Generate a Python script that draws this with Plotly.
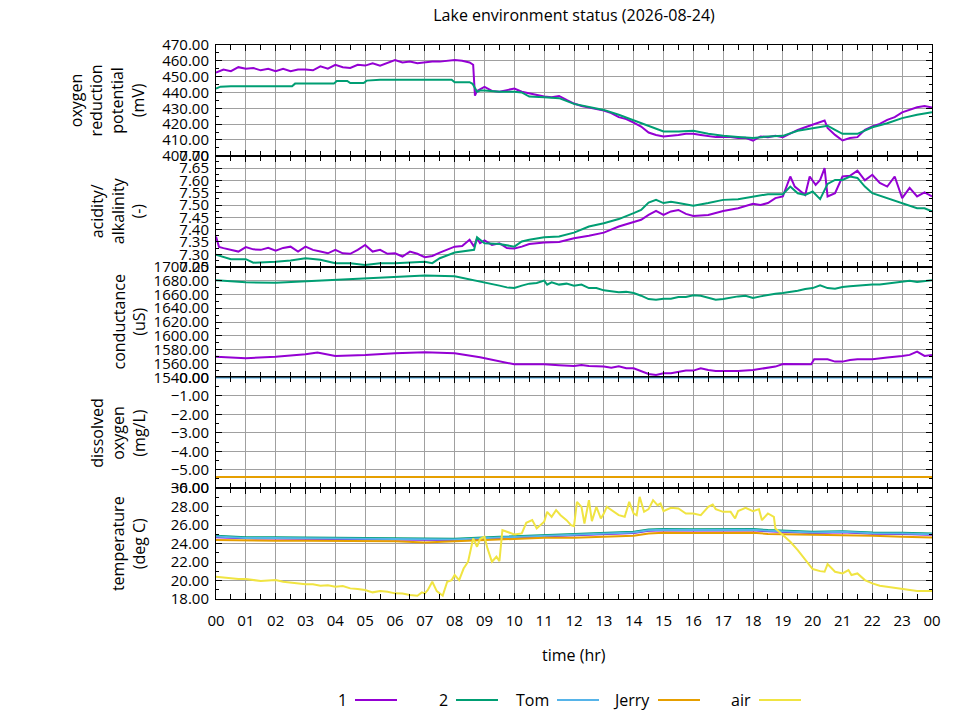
import plotly.graph_objects as go
from plotly.subplots import make_subplots

# ---- data (hours since midnight) ----
orp1_t = [0, 0.25, 0.5, 0.75, 1, 1.25, 1.5, 1.75, 2, 2.25,
          2.5, 2.75, 3, 3.25, 3.5, 3.75, 4, 4.25, 4.5, 4.75,
          5, 5.25, 5.5, 5.75, 6, 6.25, 6.5, 6.75, 7, 7.25,
          7.5, 7.75, 8, 8.25, 8.5, 8.62, 8.68, 8.75, 8.85, 9,
          9.25, 9.5, 9.75, 10, 10.25, 10.5, 10.75, 11, 11.25, 11.5,
          11.75, 12, 12.25, 12.5, 12.75, 13, 13.25, 13.5, 13.75, 14,
          14.25, 14.5, 14.75, 15, 15.25, 15.5, 15.75, 16, 16.25, 16.5,
          16.75, 17, 17.25, 17.5, 17.75, 18, 18.25, 18.5, 18.75, 19,
          19.25, 19.5, 19.75, 20, 20.25, 20.4, 20.5, 20.75, 21, 21.25,
          21.5, 21.75, 22, 22.25, 22.5, 22.75, 23, 23.25, 23.5, 23.75,
          24]
orp1 = [452.5, 454.5, 453.5, 456, 455, 455.5, 454, 455, 453.5, 455,
        453.5, 454.5, 454.5, 454, 456.5, 455, 457.5, 456, 455.5, 457.5,
        457, 458.5, 457, 459, 460.5, 459, 459.5, 458.5, 459, 459.5,
        459.5, 460, 460.5, 460, 459, 457.5, 438, 441, 442, 443.5,
        441, 440.5, 441.5, 442.5, 440.5, 439.5, 438.5, 437.5, 437, 437.8,
        435.3, 433, 431.5, 430.7, 429.5, 428.6, 427, 424.4, 423.2, 421,
        418.5, 414.7, 413.2, 412.2, 412.6, 413.2, 413.9, 413.9, 413.2, 412.6,
        411.8, 411.8, 411.8, 411.2, 411.4, 409.5, 412.2, 411.8, 412.6, 411.8,
        414.3, 416.4, 418, 419.6, 421, 422.3, 417.6, 413.2, 409.7, 411.2,
        411.8, 416.4, 418.5, 420.2, 422.7, 424.4, 427.4, 429, 430.7, 431.5,
        430.5]

orp2_t = [0, 0.15, 0.5, 1, 1.5, 2, 2.55, 2.65, 3, 3.5,
          3.95, 4.05, 4.4, 4.5, 4.95, 5.05, 5.5, 6, 6.5, 7,
          7.5, 7.9, 8.0, 8.5, 8.6, 8.75, 8.85, 9, 9.5, 10,
          10.25, 10.5, 11, 11.5, 12, 12.5, 13, 13.5, 14, 14.5,
          15, 15.5, 16, 16.5, 17, 17.5, 18, 18.5, 19, 19.5,
          20, 20.5, 20.75, 21, 21.5, 22, 22.5, 23, 23.5, 24]
orp2 = [442.5, 443.7, 444, 444, 444, 444, 444, 445.6, 445.6, 445.6,
        445.6, 447.3, 447.3, 446, 446, 447.5, 448, 448, 448, 448,
        448, 448, 446.5, 446.5, 445.5, 440.5, 441.2, 441.2, 440.5, 440.5,
        440, 437.4, 437, 436.4, 432.8, 431.1, 429, 425.9, 422.3, 418.5,
        415.4, 415.4, 415.8, 413.9, 412.6, 411.8, 411.2, 412.2, 412.6, 415.8,
        417.6, 419, 416.4, 413.9, 413.9, 418, 420.6, 423.8, 425.9, 427.6]

ph1_t = [0, 0.1, 0.25, 0.5, 0.75, 1, 1.25, 1.5, 1.75, 2,
         2.25, 2.5, 2.75, 3, 3.25, 3.5, 3.75, 4, 4.25, 4.5,
         4.75, 5, 5.25, 5.5, 5.75, 6, 6.25, 6.5, 6.75, 7,
         7.25, 7.5, 7.75, 8, 8.25, 8.5, 8.65, 8.75, 8.85, 9,
         9.25, 9.5, 9.75, 10, 10.25, 10.5, 10.75, 11, 11.5, 12,
         12.5, 13, 13.5, 14, 14.25, 14.5, 14.75, 15, 15.25, 15.5,
         15.75, 16, 16.5, 17, 17.5, 18, 18.25, 18.5, 18.75, 19,
         19.25, 19.4, 19.75, 19.9, 20.1, 20.25, 20.4, 20.5, 20.75, 21,
         21.25, 21.5, 21.75, 22, 22.25, 22.5, 22.75, 23, 23.25, 23.5,
         23.75, 24]
ph1 = [7.372, 7.330, 7.325, 7.318, 7.311, 7.329, 7.320, 7.318, 7.326, 7.315,
       7.326, 7.331, 7.311, 7.331, 7.318, 7.311, 7.304, 7.318, 7.304, 7.302,
       7.318, 7.338, 7.311, 7.318, 7.302, 7.304, 7.291, 7.311, 7.302, 7.288,
       7.293, 7.307, 7.320, 7.331, 7.334, 7.359, 7.331, 7.365, 7.345, 7.356,
       7.338, 7.345, 7.325, 7.324, 7.331, 7.342, 7.345, 7.348, 7.350, 7.365,
       7.375, 7.388, 7.413, 7.429, 7.440, 7.460, 7.476, 7.460, 7.474, 7.480,
       7.464, 7.456, 7.460, 7.476, 7.487, 7.505, 7.500, 7.508, 7.528, 7.535,
       7.616, 7.575, 7.541, 7.616, 7.582, 7.602, 7.650, 7.535, 7.548, 7.616,
       7.619, 7.640, 7.600, 7.623, 7.590, 7.575, 7.616, 7.528, 7.570, 7.535,
       7.551, 7.535]

ph2_t = [0, 0.5, 1, 1.25, 2, 2.5, 3, 3.5, 4, 4.5,
         5, 5.5, 6, 6.5, 7, 7.25, 7.5, 8, 8.5, 8.65,
         8.75, 9, 9.5, 10, 10.25, 10.5, 11, 11.5, 12, 12.5,
         13, 13.5, 14, 14.25, 14.5, 14.75, 15, 15.25, 15.5, 16,
         16.5, 17, 17.5, 18, 18.5, 19, 19.25, 19.5, 19.75, 20,
         20.25, 20.5, 20.75, 21, 21.25, 21.5, 21.75, 22, 22.5, 23,
         23.5, 23.75, 24]
ph2 = [7.298, 7.280, 7.280, 7.266, 7.270, 7.275, 7.284, 7.278, 7.264, 7.264,
       7.257, 7.264, 7.264, 7.268, 7.270, 7.264, 7.284, 7.307, 7.315, 7.318,
       7.369, 7.345, 7.342, 7.331, 7.352, 7.359, 7.369, 7.372, 7.388, 7.413,
       7.426, 7.443, 7.467, 7.480, 7.510, 7.521, 7.508, 7.513, 7.508, 7.497,
       7.508, 7.521, 7.524, 7.535, 7.544, 7.544, 7.575, 7.548, 7.541, 7.555,
       7.524, 7.586, 7.602, 7.602, 7.616, 7.610, 7.575, 7.548, 7.528, 7.505,
       7.487, 7.487, 7.474]

cond1_t = [0, 1, 2, 3, 3.4, 4, 5, 6, 7, 8,
           8.85, 9.25, 9.5, 9.75, 10, 10.5, 11, 11.5, 12, 12.25,
           12.5, 13, 13.25, 13.5, 13.75, 14, 14.25, 14.5, 14.75, 15,
           15.25, 15.5, 15.75, 16, 16.25, 16.5, 16.75, 17, 17.5, 18,
           18.5, 18.75, 19, 19.5, 19.95, 20.05, 20.5, 20.75, 21, 21.25,
           21.5, 22, 22.25, 22.5, 23, 23.25, 23.5, 23.75, 24]
cond1 = [1570, 1567.6, 1570, 1573.4, 1576, 1571, 1572.5, 1575, 1576.3, 1575,
         1569, 1565.2, 1562.8, 1560.4, 1558.9, 1558.9, 1558.9, 1557.5, 1556.5, 1558,
         1556.5, 1555.6, 1554.1, 1556, 1553.1, 1553.1, 1549.3, 1545, 1543.5, 1545.9,
         1545.9, 1548.3, 1549.8, 1549.8, 1553.1, 1550.7, 1549.3, 1549.3, 1549.3, 1550.7,
         1554.1, 1555.6, 1559.4, 1558.9, 1558.9, 1566.1, 1566.1, 1562.8, 1562.8, 1565.2,
         1566.1, 1566.1, 1567.6, 1568.6, 1571, 1572.5, 1577.3, 1571, 1572.5]

cond2_t = [0, 1, 2, 3, 4, 5, 6, 7, 8, 8.85,
           9.25, 9.5, 9.75, 10, 10.25, 10.5, 10.75, 11, 11.1, 11.25,
           11.5, 11.75, 12, 12.25, 12.5, 12.75, 13, 13.25, 13.5, 13.75,
           14, 14.25, 14.5, 14.75, 15, 15.25, 15.5, 15.75, 16, 16.25,
           16.5, 16.75, 17, 17.25, 17.5, 17.75, 18, 18.25, 18.5, 18.75,
           19, 19.25, 19.5, 19.75, 20, 20.25, 20.5, 20.75, 21, 21.25,
           21.5, 21.75, 22, 22.25, 22.5, 22.75, 23, 23.25, 23.5, 23.75,
           24]
cond2 = [1680.2, 1677.3, 1676.5, 1678.7, 1681, 1683.6, 1685, 1687, 1686, 1678.7,
         1675.4, 1672.5, 1670, 1669, 1672.5, 1675.4, 1676.3, 1679.7, 1674, 1677.3,
         1674, 1675.4, 1672.5, 1674, 1669, 1669, 1665.7, 1664.3, 1662.8, 1663.5,
         1661.8, 1658, 1653.1, 1652.2, 1653.6, 1653.6, 1656, 1656, 1658.5, 1658,
         1654.6, 1652.2, 1653.1, 1655.6, 1657, 1658, 1654.6, 1657, 1659.4, 1660.9,
         1661.8, 1663.3, 1665.2, 1667.6, 1669, 1673, 1669, 1668, 1670.5, 1671.5,
         1672.5, 1672.5, 1674, 1674, 1675.4, 1677.3, 1678.7, 1679.7, 1677.8, 1678.7,
         1680.2]

do_t = [0, 24]
do_tom = [0.0, 0.0]
do_jerry = [-5.4, -5.4]

water_t = [0, 1, 2, 3, 4, 5, 6, 7, 8, 9.5, 11, 12, 13,
           14, 14.5, 15, 16, 17, 18, 18.5, 19.5, 20, 21, 22, 23, 24]
temp1 = [24.70, 24.57, 24.55, 24.52, 24.50, 24.49, 24.47, 24.36, 24.39, 24.61, 24.79, 24.87, 24.97,
         25.15, 25.40, 25.44, 25.42, 25.47, 25.44, 25.33, 25.22, 25.15, 25.22, 25.07, 25.04, 24.97]
temp2 = [24.85, 24.70, 24.68, 24.65, 24.63, 24.62, 24.60, 24.49, 24.52, 24.74, 24.92, 25.00, 25.10,
         25.28, 25.53, 25.57, 25.55, 25.60, 25.57, 25.46, 25.35, 25.28, 25.35, 25.20, 25.17, 25.10]
temp_tom = [24.76, 24.62, 24.60, 24.57, 24.55, 24.54, 24.52, 24.41, 24.44, 24.66, 24.84, 24.92, 25.02,
            25.20, 25.45, 25.49, 25.47, 25.52, 25.49, 25.38, 25.27, 25.20, 25.27, 25.12, 25.09, 25.02]
temp_jerry = [24.38, 24.32, 24.30, 24.30, 24.28, 24.30, 24.25, 24.13, 24.27, 24.49, 24.63, 24.63, 24.74,
              24.85, 25.10, 25.17, 25.15, 25.20, 25.17, 25.05, 25.00, 24.92, 24.92, 24.85, 24.74, 24.67]

air_t = [0, 0.25, 0.5, 0.75, 1, 1.25, 1.5, 1.75, 2, 2.25,
         2.5, 2.75, 3, 3.25, 3.5, 3.75, 4, 4.25, 4.5, 4.75,
         5, 5.25, 5.5, 5.75, 6, 6.25, 6.5, 6.75, 6.9, 7.0,
         7.1, 7.25, 7.4, 7.6, 7.75, 7.9, 8.0, 8.15, 8.3, 8.45,
         8.55, 8.62, 8.75, 8.85, 9.0, 9.1, 9.25, 9.4, 9.5, 9.6,
         9.75, 10.0, 10.25, 10.4, 10.6, 10.75, 11.0, 11.1, 11.25, 11.4,
         11.55, 11.75, 11.9, 12.0, 12.1, 12.25, 12.35, 12.5, 12.6, 12.75,
         12.9, 13.0, 13.1, 13.3, 13.5, 13.7, 13.85, 14.0, 14.1, 14.2,
         14.35, 14.5, 14.65, 14.8, 14.9, 15.0, 15.25, 15.5, 15.75, 16.0,
         16.25, 16.5, 16.65, 16.75, 17.0, 17.25, 17.4, 17.5, 17.75, 18.0,
         18.2, 18.3, 18.5, 18.7, 18.75, 19.0, 19.25, 19.5, 19.75, 20.0,
         20.25, 20.4, 20.5, 20.75, 21.0, 21.2, 21.3, 21.5, 21.75, 22.0,
         22.25, 22.5, 22.75, 23.0, 23.25, 23.5, 23.75, 24]
air = [20.41, 20.30, 20.23, 20.16, 20.16, 20.05, 19.95, 20.00, 20.05, 19.87,
       19.77, 19.70, 19.59, 19.60, 19.44, 19.50, 19.33, 19.40, 19.15, 19.08,
       18.97, 18.72, 18.86, 18.79, 18.61, 18.60, 18.43, 18.36, 18.72, 18.61,
       18.97, 19.87, 18.86, 18.36, 19.87, 20.05, 20.60, 20.05, 21.30, 22.04,
       23.66, 24.56, 23.66, 24.49, 24.74, 23.48, 22.04, 22.58, 22.10, 25.46,
       25.28, 24.99, 25.10, 26.25, 26.54, 25.64, 26.36, 27.44, 26.90, 27.62,
       27.08, 26.54, 26.00, 25.89, 28.52, 27.98, 26.18, 28.70, 26.43, 27.98,
       26.72, 27.26, 27.98, 27.52, 27.08, 26.90, 28.52, 27.26, 27.08, 29.06,
       27.44, 27.73, 28.70, 28.16, 28.34, 27.52, 27.87, 27.80, 27.26, 27.26,
       27.08, 27.98, 28.23, 27.73, 27.44, 27.44, 26.72, 27.52, 27.87, 27.52,
       27.73, 26.54, 27.26, 26.90, 25.64, 24.92, 24.20, 23.30, 22.22, 21.24,
       21.02, 20.95, 21.78, 20.95, 20.77, 21.13, 20.60, 20.77, 20.05, 19.69,
       19.44, 19.33, 19.26, 19.08, 18.97, 18.86, 18.86, 18.86]

hour_ticks = list(range(25))
hour_labels = ["%02d" % (h % 24) for h in hour_ticks]

series_names = ["1", "2", "Tom", "Jerry", "air"]
colors = {"1": "#9400d3", "2": "#009e73", "Tom": "#56b4e9",
          "Jerry": "#e69f00", "air": "#f0e442"}

FONT = "Open Sans"
PAGE_PAD = 8  # browser body margin shifts the figure by this much

# panel: (y title, range, dtick, minor dtick)
panels = [
    ("oxygen<br>reduction<br>potential<br>(mV)", [400, 470], 10, 5),
    ("acidity/<br>alkalinity<br>(-)", [7.25, 7.70], 0.05, 0.025),
    ("conductance<br>(uS)", [1540, 1700], 20, 10),
    ("dissolved<br>oxygen<br>(mg/L)", [-6, 0], 1, 0.5),
    ("temperature<br>(deg C)", [18, 30], 2, 1),
]

fig = make_subplots(rows=5, cols=1, shared_xaxes=True, vertical_spacing=0)


def add_line(row, name, x, y):
    assert len(x) == len(y), name
    fig.add_trace(go.Scatter(x=x, y=y, mode="lines", name=name, showlegend=False,
                             line=dict(color=colors[name], width=2)),
                  row=row, col=1)


add_line(1, "1", orp1_t, orp1)
add_line(1, "2", orp2_t, orp2)
add_line(2, "1", ph1_t, ph1)
add_line(2, "2", ph2_t, ph2)
add_line(3, "1", cond1_t, cond1)
add_line(3, "2", cond2_t, cond2)
add_line(4, "Tom", do_t, do_tom)
add_line(4, "Jerry", do_t, do_jerry)
add_line(5, "1", water_t, temp1)
add_line(5, "2", water_t, temp2)
add_line(5, "Tom", water_t, temp_tom)
add_line(5, "Jerry", water_t, temp_jerry)
add_line(5, "air", air_t, air)

axis_common = dict(showline=True, linecolor="black", linewidth=1, mirror="ticks",
                   ticks="inside", ticklen=6, tickcolor="black",
                   showgrid=True, gridcolor="#a0a0a0", gridwidth=1, zeroline=False,
                   tickfont=dict(family=FONT, size=15, color="black"))

for i, (title, rng, dt, mdt) in enumerate(panels, start=1):
    fig.update_yaxes(row=i, col=1, range=rng, tickmode="linear", tick0=rng[0], dtick=dt,
                     tickformat=".2f", ticklabelstandoff=3,
                     minor=dict(ticks="inside", ticklen=3, dtick=mdt, tick0=rng[0],
                                tickcolor="black", showgrid=False),
                     **axis_common)
    fig.update_xaxes(row=i, col=1, range=[0, 24], tickvals=hour_ticks,
                     ticktext=hour_labels, showticklabels=(i == 5), ticklabelstandoff=8,
                     minor=dict(ticks="inside", ticklen=5, dtick=0.5, tick0=0,
                                tickcolor="black", showgrid=False),
                     **axis_common)


# screen pixel -> paper helpers (plot area 216..932 x 45..599 on screen)
def px_x(p):
    return (p - 216) / 716.0


def px_y(p):
    return (599 - p) / 554.0


# rotated multi-line y titles, placed like gnuplot's
title_x = [107, 118, 128.5, 118, 128.5]
for i, (title, rng, dt, mdt) in enumerate(panels):
    yc = 45 + 110.8 * i + 55.4
    fig.add_annotation(text=title, textangle=-90, xref="paper", yref="paper",
                       x=px_x(title_x[i]), y=px_y(yc), showarrow=False,
                       xanchor="center", yanchor="middle",
                       font=dict(family=FONT, size=16, color="black"))

fig.add_annotation(text="time (hr)", xref="paper", yref="paper", x=px_x(574), y=px_y(655),
                   xanchor="center", yanchor="middle", showarrow=False,
                   font=dict(family=FONT, size=16, color="black"))

# key along the bottom: label, then line sample to its right
for k, name in enumerate(series_names):
    x0 = 355 + 101 * k
    fig.add_annotation(text=name, xref="paper", yref="paper", x=px_x(x0 - 6), y=px_y(700),
                       xanchor="right", yanchor="middle", showarrow=False,
                       font=dict(family=FONT, size=16, color="black"))
    fig.add_shape(type="line", xref="paper", yref="paper", x0=px_x(x0), x1=px_x(x0 + 42),
                  y0=px_y(700), y1=px_y(700), line=dict(color=colors[name], width=2))

fig.update_layout(
    width=960, height=720,
    margin=dict(l=216 - PAGE_PAD, r=28 + PAGE_PAD, t=45 - PAGE_PAD, b=121 + PAGE_PAD),
    paper_bgcolor="white", plot_bgcolor="white",
    title=dict(text="Lake environment status (2026-08-24)", x=0.5, xref="paper",
               y=1 - (15 - PAGE_PAD) / 720, yref="container", yanchor="middle",
               font=dict(family=FONT, size=16, color="black")),
    showlegend=False,
    font=dict(family=FONT, color="black"),
)

fig.write_html("out.html")
